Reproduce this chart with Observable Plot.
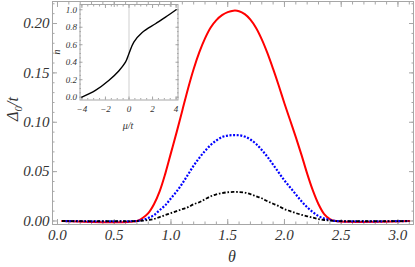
<!DOCTYPE html>
<html><head><meta charset="utf-8">
<script src="https://cdn.jsdelivr.net/npm/d3@7"></script>
<script src="https://cdn.jsdelivr.net/npm/@observablehq/plot@0.6"></script>
<style>
html,body{margin:0;padding:0;background:#fff;}
#wrap{position:relative;width:415px;height:267px;overflow:hidden;}
#wrap svg{position:absolute;left:0;top:0;}
</style></head><body><div id="wrap"></div>
<script>
// ---- main chart data ----
const theta = [0.04, 0.70, 0.75, 0.80, 0.85, 0.90, 0.95, 1.00, 1.05, 1.10, 1.15, 1.20, 1.25, 1.30, 1.35, 1.40, 1.45, 1.50, 1.55, 1.60, 1.65, 1.70, 1.75, 1.80, 1.85, 1.90, 1.95, 2.00, 2.05, 2.10, 2.15, 2.20, 2.25, 2.30, 2.35, 2.40, 2.45, 3.10];
const redVals = [0, 0, 0.003, 0.008, 0.017, 0.030, 0.048, 0.069, 0.090, 0.112, 0.134, 0.154, 0.171, 0.185, 0.196, 0.2035, 0.2085, 0.2115, 0.213, 0.2125, 0.2095, 0.204, 0.1955, 0.184, 0.170, 0.154, 0.137, 0.119, 0.102, 0.085, 0.067, 0.048, 0.031, 0.017, 0.007, 0.002, 0, 0];
const blueVals = [0, 0, 0.001, 0.003, 0.006, 0.011, 0.016, 0.023, 0.030, 0.038, 0.047, 0.056, 0.064, 0.071, 0.077, 0.0815, 0.085, 0.0865, 0.087, 0.0868, 0.0855, 0.0825, 0.078, 0.072, 0.065, 0.057, 0.049, 0.041, 0.034, 0.027, 0.020, 0.014, 0.009, 0.005, 0.0025, 0.001, 0, 0];
const blackVals = [0, 0, 0.0003, 0.001, 0.002, 0.004, 0.006, 0.008, 0.010, 0.012, 0.014, 0.017, 0.019, 0.022, 0.025, 0.027, 0.0283, 0.0291, 0.0294, 0.0293, 0.0288, 0.0272, 0.025, 0.023, 0.020, 0.0175, 0.015, 0.012, 0.010, 0.008, 0.0063, 0.0048, 0.0034, 0.002, 0.001, 0.0004, 0, 0];
const xTicks = [0, 0.5, 1, 1.5, 2, 2.5, 3];
const xTickLabels = ["0.0", "0.5", "1.0", "1.5", "2.0", "2.5", "3.0"];
const yTicks = [0, 0.05, 0.10, 0.15, 0.20];
const yTickLabels = ["0.00", "0.05", "0.10", "0.15", "0.20"];

// ---- inset data ----
const muVals = [-4, -2.85, -1.72, -0.87, -0.30, 0, 0.41, 1.12, 2.25, 3.10, 4];
const nVals = [0, 0.077, 0.19, 0.30, 0.40, 0.50, 0.63, 0.74, 0.84, 0.915, 1.0];
const muTicks = [-4, -2, 0, 2, 4];
const muTickLabels = ["\u22124", "\u22122", "0", "2", "4"];
const nTicks = [0, 0.2, 0.4, 0.6, 0.8, 1.0];
const nTickLabels = ["0.0", "0.2", "0.4", "0.6", "0.8", "1.0"];

const FONT = "'Liberation Serif','Times New Roman',serif";
const FRAME = "#a6a6a6";
const TXT = "#333";

const xMinor = d3.range(0, 3.15, 0.1);
const yMinor = d3.range(0, 0.2205, 0.01);

const fmt = (ticks, labels) => (d) => labels[ticks.findIndex(t => Math.abs(t - d) < 1e-9)];

const main = Plot.plot({
  width: 415, height: 267,
  marginLeft: 52, marginRight: 2, marginTop: 1, marginBottom: 43,
  x: {domain: [-0.044, 3.137], label: null},
  y: {domain: [-0.00355, 0.2223], label: null},
  style: {fontFamily: FONT, fontStyle: "italic", fontSize: "15px", background: "transparent", color: TXT},
  marks: [
    Plot.axisX(xMinor, {anchor: "bottom", tickSize: -2.5, fill: "none", stroke: FRAME, label: null}),
    Plot.axisX(xMinor, {anchor: "top", tickSize: -2.5, fill: "none", stroke: FRAME, label: null}),
    Plot.axisX(xTicks, {anchor: "bottom", tickSize: -5, fill: "none", stroke: FRAME, label: null}),
    Plot.axisX(xTicks, {anchor: "top", tickSize: -5, fill: "none", stroke: FRAME, label: null}),
    Plot.axisY(yMinor, {anchor: "left", tickSize: -2.5, fill: "none", stroke: FRAME, label: null}),
    Plot.axisY(yMinor, {anchor: "right", tickSize: -2.5, fill: "none", stroke: FRAME, label: null}),
    Plot.axisY(yTicks, {anchor: "left", tickSize: -5, fill: "none", stroke: FRAME, label: null}),
    Plot.axisY(yTicks, {anchor: "right", tickSize: -5, fill: "none", stroke: FRAME, label: null}),
    Plot.axisX(xTicks, {anchor: "bottom", tickSize: 0, tickPadding: 5, tickFormat: fmt(xTicks, xTickLabels), fill: TXT, label: null}),
    Plot.axisY(yTicks, {anchor: "left", tickSize: 0, tickPadding: 3, tickFormat: fmt(yTicks, yTickLabels), fill: TXT, label: null}),
    Plot.frame({stroke: FRAME, strokeWidth: 1}),
    Plot.line(theta, {x: theta, y: redVals, stroke: "#ff0000", strokeWidth: 2, curve: "catmull-rom"}),
    Plot.line(theta, {x: theta, y: blueVals, stroke: "#0000ff", strokeWidth: 2.2, strokeDasharray: "2,1.6", strokeLinecap: "butt", curve: "catmull-rom"}),
    Plot.line(theta, {x: theta, y: blackVals, stroke: "#000", strokeWidth: 1.8, strokeDasharray: "3.5,1.8,1.6,1.8", strokeLinecap: "butt", curve: "catmull-rom"})
  ]
});

const muMinor = d3.range(-4, 4.01, 0.5);
const nMinor = d3.range(0, 1.001, 0.05);

const inset = Plot.plot({
  width: 415, height: 135,
  marginLeft: 79.5, marginRight: 237.5, marginTop: 4, marginBottom: 35.5,
  x: {domain: [-4.16, 4.16], label: null},
  y: {domain: [-0.032, 1.06], label: null},
  style: {fontFamily: FONT, fontStyle: "italic", fontSize: "9px", background: "transparent", color: TXT},
  marks: [
    Plot.ruleX([0], {stroke: "#cfcfcf", strokeWidth: 1}),
    Plot.axisX(muMinor, {anchor: "bottom", tickSize: -1.5, fill: "none", stroke: FRAME, label: null}),
    Plot.axisX(muMinor, {anchor: "top", tickSize: -1.5, fill: "none", stroke: FRAME, label: null}),
    Plot.axisX(muTicks, {anchor: "bottom", tickSize: -3, fill: "none", stroke: FRAME, label: null}),
    Plot.axisX(muTicks, {anchor: "top", tickSize: -3, fill: "none", stroke: FRAME, label: null}),
    Plot.axisY(nMinor, {anchor: "left", tickSize: -1.5, fill: "none", stroke: FRAME, label: null}),
    Plot.axisY(nMinor, {anchor: "right", tickSize: -1.5, fill: "none", stroke: FRAME, label: null}),
    Plot.axisY(nTicks, {anchor: "left", tickSize: -3, fill: "none", stroke: FRAME, label: null}),
    Plot.axisY(nTicks, {anchor: "right", tickSize: -3, fill: "none", stroke: FRAME, label: null}),
    Plot.axisX(muTicks, {anchor: "bottom", tickSize: 0, tickPadding: 6, tickFormat: fmt(muTicks, muTickLabels), fill: TXT, label: null}),
    Plot.axisY(nTicks, {anchor: "left", tickSize: 0, tickPadding: 3, tickFormat: fmt(nTicks, nTickLabels), fill: TXT, label: null}),
    Plot.frame({stroke: FRAME, strokeWidth: 1}),
    Plot.line(muVals, {x: muVals, y: nVals, stroke: "#000", strokeWidth: 1.4, curve: "catmull-rom"})
  ]
});

const wrap = document.getElementById("wrap");
wrap.appendChild(main);
wrap.appendChild(inset);

// axis titles
const ms = d3.select(main);
const yl = ms.append("text")
  .attr("transform", "translate(18,109) rotate(-90)")
  .attr("text-anchor", "middle")
  .attr("font-family", FONT).attr("font-style", "italic").attr("font-size", 16).attr("fill", TXT);
yl.append("tspan").text("\u0394");
yl.append("tspan").attr("dy", 4).attr("font-size", 11).text("0");
yl.append("tspan").attr("dy", -4).text("/t");
ms.append("text")
  .attr("x", 232).attr("y", 262)
  .attr("text-anchor", "middle")
  .attr("font-family", FONT).attr("font-style", "italic").attr("font-size", 16).attr("fill", TXT)
  .text("\u03B8");

const is = d3.select(inset);
is.append("text")
  .attr("x", 128).attr("y", 129)
  .attr("text-anchor", "middle")
  .attr("font-family", FONT).attr("font-style", "italic").attr("font-size", 10).attr("fill", TXT)
  .text("\u03BC/t");
is.append("text")
  .attr("transform", "translate(60,52) rotate(-90)")
  .attr("text-anchor", "middle")
  .attr("font-family", FONT).attr("font-style", "italic").attr("font-size", 10).attr("fill", TXT)
  .text("n");
</script></body></html>
